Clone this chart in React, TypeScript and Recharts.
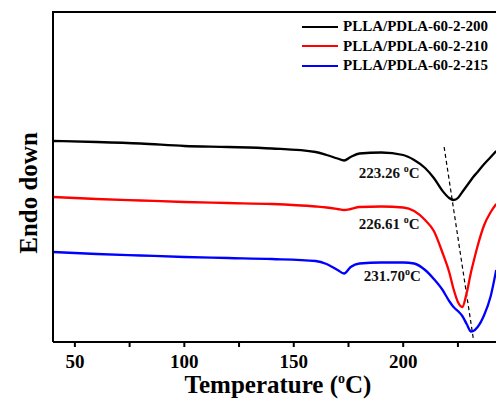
import React from 'react';
import {
  LineChart,
  Line,
  XAxis,
  YAxis,
  ReferenceLine,
  ReferenceDot,
} from 'recharts';

// DSC heating curves, arbitrary heat-flow units (endo down)
const temperatures = [
  40, 60, 80, 100, 120, 140, 160, 165, 170, 173, 176, 180, 190, 200, 205, 210,
  214, 218, 221, 223, 225, 227, 229, 231, 232, 234, 237, 240, 242.5,
];
const flow200 = [
  201, 200, 198.5, 196, 195, 193.5, 190, 187, 183.5, 181.5, 185, 188.5, 189.5,
  187, 182, 174, 164, 151, 144, 142, 144, 150, 156, 162, 165, 170, 178, 185, 191,
];
const flow210 = [
  145, 143, 141.5, 140, 139, 138, 135.5, 134.5, 133, 132, 133, 135, 135.5,
  134.5, 131, 122, 111, 89, 70, 53, 40, 35, 49, 70, 79, 96, 117, 130, 138,
];
const flow215 = [
  90, 88, 86.5, 85, 84, 83, 81, 78, 72, 68.5, 75, 78.5, 79.5, 79.5, 78.5, 72,
  63, 52, 41, 35, 31, 26, 18, 10.5, 11, 15, 27, 46, 72,
];

const seriesNames = ['PLLA/PDLA-60-2-200', 'PLLA/PDLA-60-2-210', 'PLLA/PDLA-60-2-215'];
const seriesColors = ['#000000', '#ff0000', '#0000ff'];

const xDomain = [40, 242.4];
const yDomain = [0, 330];
const xTicks = [50, 75, 100, 125, 150, 175, 200, 225];
const majorTicks = [50, 100, 150, 200];

// peak temperature annotations
const peakLabels = ['223.26', '226.61', '231.70'];
const peakLabelT = [193.6, 193.6, 195];
const peakLabelV = [164, 113, 61];
const peakSpace = [true, true, false];

// dashed guide through the peaks
const guideT = [218.7, 232];
const guideV = [195, 4];

const data = temperatures.map((t, i) => ({
  t,
  s200: flow200[i],
  s210: flow210[i],
  s215: flow215[i],
}));

const FONT = '"Liberation Serif", "Times New Roman", serif';

const LegendBox = () => (
  <div
    style={{
      position: 'absolute',
      top: 17,
      left: 302,
      fontFamily: FONT,
      fontWeight: 'bold',
      fontSize: 15,
      lineHeight: '19.5px',
      whiteSpace: 'nowrap',
    }}
  >
    {seriesNames.map((n, i) => (
      <div key={n} style={{ display: 'flex', alignItems: 'center' }}>
        <span
          style={{
            display: 'inline-block',
            width: 36,
            height: 0,
            borderTop: `2.5px solid ${seriesColors[i]}`,
            marginRight: 5,
          }}
        />
        <span>{n}</span>
      </div>
    ))}
  </div>
);

const PeakLabel = ({ viewBox, text, space }: any) => {
  const cx = viewBox.x + viewBox.width / 2;
  const cy = viewBox.y + viewBox.height / 2;
  return (
    <text
      x={cx}
      y={cy}
      textAnchor="middle"
      fontFamily={FONT}
      fontWeight="bold"
      fontSize={15}
      fill="#111"
    >
      {text}
      {space ? ' ' : ''}
      <tspan dy={-6} fontSize={10}>o</tspan>
      <tspan dy={6}>C</tspan>
    </text>
  );
};

export default function App() {
  return (
    <div
      style={{
        position: 'absolute',
        left: 0,
        top: 0,
        width: 496,
        height: 401,
        overflow: 'hidden',
        background: '#fff',
      }}
    >
      <LineChart
        width={496}
        height={401}
        data={data}
        margin={{ top: 12, right: 0, left: 0, bottom: 0 }}
      >
        <XAxis
          dataKey="t"
          type="number"
          domain={xDomain}
          allowDataOverflow
          ticks={xTicks}
          tickFormatter={(v: number) => (majorTicks.includes(v) ? String(v) : '')}
          height={59}
          axisLine={{ stroke: '#000', strokeWidth: 2 }}
          tickLine={{ stroke: '#000', strokeWidth: 2 }}
          tickSize={5}
          tick={{ fill: '#000', fontSize: 19, fontWeight: 'bold', fontFamily: FONT, dy: 6 }}
          label={{
            content: () => (
              <text
                x={278}
                y={393}
                textAnchor="middle"
                fontFamily={FONT}
                fontWeight="bold"
                fontSize={25}
                fill="#000"
              >
                Temperature (
                <tspan dy={-10} fontSize={14}>o</tspan>
                <tspan dy={10}>C)</tspan>
              </text>
            ),
          }}
        />
        <YAxis
          type="number"
          domain={yDomain}
          allowDataOverflow
          width={53}
          tick={false}
          tickLine={false}
          axisLine={{ stroke: '#000', strokeWidth: 2 }}
          label={{
            content: () => (
              <text
                x={0}
                y={0}
                transform="translate(37,193) rotate(-90)"
                textAnchor="middle"
                fontFamily={FONT}
                fontWeight="bold"
                fontSize={25}
                fill="#000"
              >
                Endo down
              </text>
            ),
          }}
        />
        <ReferenceLine
          segment={[
            { x: guideT[0], y: guideV[0] },
            { x: guideT[1], y: guideV[1] },
          ]}
          stroke="#000"
          strokeWidth={1.2}
          strokeDasharray="4 3"
        />
        <Line
          dataKey="s200"
          name={seriesNames[0]}
          type="monotone"
          stroke={seriesColors[0]}
          strokeWidth={2.3}
          dot={false}
          isAnimationActive={false}
        />
        <Line
          dataKey="s210"
          name={seriesNames[1]}
          type="monotone"
          stroke={seriesColors[1]}
          strokeWidth={2.3}
          dot={false}
          isAnimationActive={false}
        />
        <Line
          dataKey="s215"
          name={seriesNames[2]}
          type="monotone"
          stroke={seriesColors[2]}
          strokeWidth={2.3}
          dot={false}
          isAnimationActive={false}
        />
        {peakLabels.map((p, i) => (
          <ReferenceDot
            key={p}
            x={peakLabelT[i]}
            y={peakLabelV[i]}
            r={1}
            fill="none"
            stroke="none"
            label={{
              content: (props: any) => (
                <PeakLabel {...props} text={p} space={peakSpace[i]} />
              ),
            }}
          />
        ))}
      </LineChart>
      {/* top edge of the plot frame */}
      <div
        style={{
          position: 'absolute',
          top: 11,
          left: 52,
          width: 444,
          height: 2,
          background: '#000',
          zIndex: 3,
        }}
      />
      <LegendBox />
    </div>
  );
}
